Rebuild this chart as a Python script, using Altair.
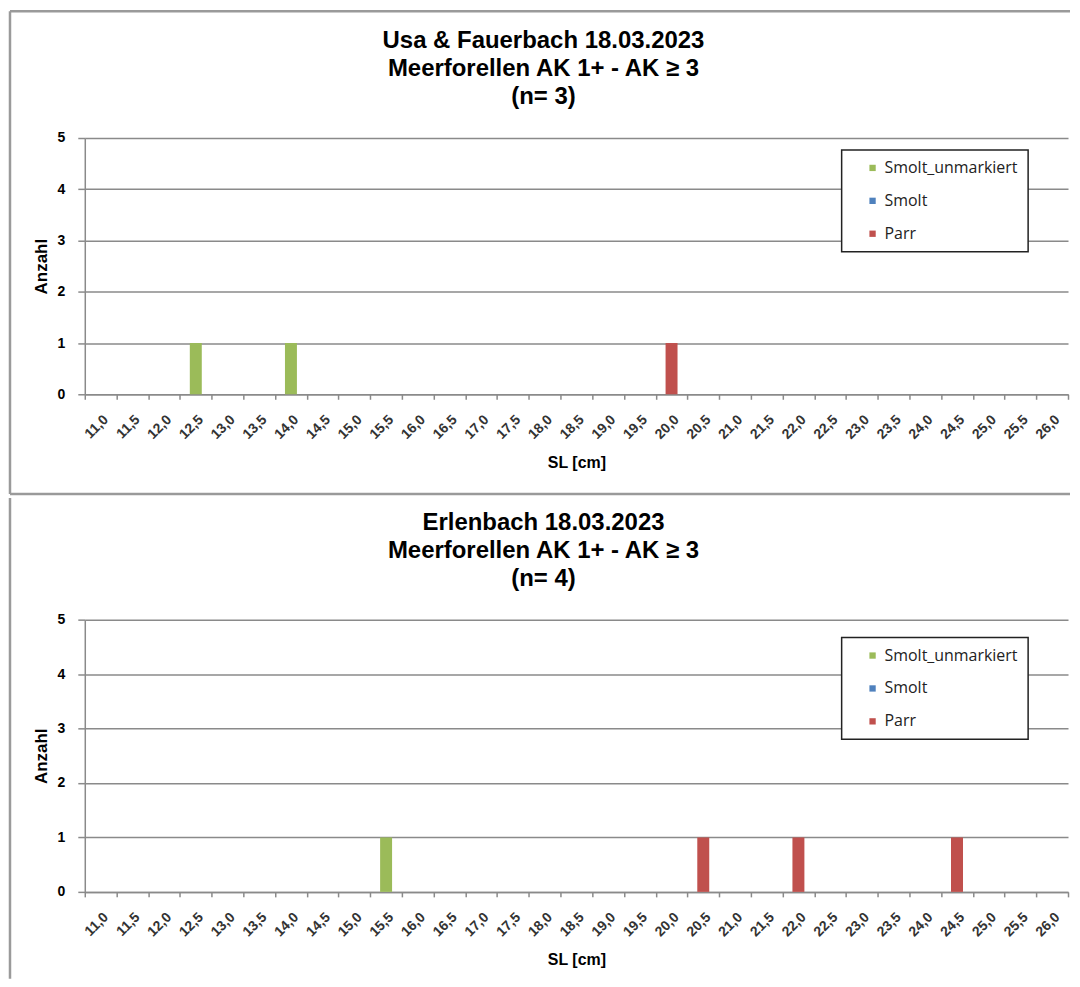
import altair as alt
import pandas as pd

# ---- data ----
sl_labels = ["11,0", "11,5", "12,0", "12,5", "13,0", "13,5", "14,0", "14,5",
             "15,0", "15,5", "16,0", "16,5", "17,0", "17,5", "18,0", "18,5",
             "19,0", "19,5", "20,0", "20,5", "21,0", "21,5", "22,0", "22,5",
             "23,0", "23,5", "24,0", "24,5", "25,0", "25,5", "26,0"]
series = ["Smolt_unmarkiert", "Smolt", "Parr"]
series_colors = ["#9BBB59", "#4F81BD", "#C0504D"]

top_sl = ["12,5", "14,0", "20,0"]
top_series = ["Smolt_unmarkiert", "Smolt_unmarkiert", "Parr"]
top_count = [1, 1, 1]
top_title = ["Usa & Fauerbach 18.03.2023", "Meerforellen AK 1+ - AK ≥ 3", "(n= 3)"]

bot_sl = ["15,5", "20,5", "22,0", "24,5"]
bot_series = ["Smolt_unmarkiert", "Parr", "Parr", "Parr"]
bot_count = [1, 1, 1, 1]
bot_title = ["Erlenbach 18.03.2023", "Meerforellen AK 1+ - AK ≥ 3", "(n= 4)"]

y_ticks = [0, 1, 2, 3, 4, 5]

BORDER = "#9a9a9a"
GRID = "#8a8a8a"
PLOT_W = 986


def panel(sl, ser, cnt, title, plot_h, legend_y, left_top, left_bottom, separator):
    df = pd.DataFrame({"SL": sl, "Status": ser, "Anzahl": cnt})
    bars = alt.Chart(df).mark_bar(size=12).encode(
        x=alt.X("SL:N",
                scale=alt.Scale(domain=sl_labels, paddingInner=0, paddingOuter=0),
                axis=alt.Axis(labelAngle=-45, labelFontSize=14, labelFontWeight="bold",
                              labelFont="Liberation Sans", labelColor="#333333",
                              tickBand="extent", tickSize=5, tickColor=GRID,
                              domainColor=GRID, domainWidth=1.5, tickWidth=1.5,
                              labelPadding=13, labelOverlap=False, grid=False,
                              title="SL [cm]", titleFontSize=16, titleFontWeight="bold",
                              titleFont="Liberation Sans", titlePadding=13,
                              titleColor="black")),
        y=alt.Y("Anzahl:Q",
                scale=alt.Scale(domain=[0, 5]),
                axis=alt.Axis(values=y_ticks, format="d", grid=True, gridColor=GRID,
                              gridWidth=1.5, tickSize=7, tickColor=GRID, tickWidth=1.5,
                              domainColor=GRID, domainWidth=1.5, labelFontSize=14,
                              labelFontWeight="bold", labelFont="Liberation Sans",
                              labelColor="black", labelPadding=13,
                              title="Anzahl", titleFontSize=17, titleFontWeight="bold",
                              titleFont="Liberation Sans", titlePadding=7,
                              titleColor="black")),
        color=alt.Color("Status:N",
                        scale=alt.Scale(domain=series, range=series_colors),
                        legend=alt.Legend(title=None, orient="none", legendX=759,
                                          legendY=legend_y, strokeColor="#222222",
                                          fillColor="white", padding=10,
                                          symbolType="square", symbolSize=40,
                                          symbolOffset=13, symbolStrokeWidth=0,
                                          labelFont="Open Sans", labelFontSize=16,
                                          labelColor="#222222", rowPadding=17,
                                          labelOffset=4)),
    )
    one = alt.Data(values=[{"k": 0}])
    title_layer = alt.Chart(one).mark_text(
        font="Liberation Sans", fontSize=24, fontWeight="bold", lineHeight=28,
        baseline="alphabetic", align="center", color="black"
    ).encode(x=alt.value(460), y=alt.value(-90), text=alt.value(title))

    left_line = alt.Chart(one).mark_rule(color=BORDER, strokeWidth=2.5).encode(
        x=alt.value(-75), y=alt.value(left_top), y2=alt.value(left_bottom))
    layers = [bars, title_layer, left_line]
    if separator:
        top_line = alt.Chart(one).mark_rule(color=BORDER, strokeWidth=2.5).encode(
            x=alt.value(-75), x2=alt.value(988), y=alt.value(left_top))
        sep_line = alt.Chart(one).mark_rule(color=BORDER, strokeWidth=2.5).encode(
            x=alt.value(-75), x2=alt.value(988), y=alt.value(left_bottom))
        layers += [top_line, sep_line]
    return alt.layer(*layers).properties(width=PLOT_W, height=plot_h)


top = panel(top_sl, top_series, top_count, top_title, 257, 12, -127, 357, True)
bottom = panel(bot_sl, bot_series, bot_count, bot_title, 273, 18, -122, 360, False)

chart = alt.vconcat(top, bottom, spacing=0).resolve_scale(
    x="independent", y="independent", color="independent"
).resolve_legend(color="independent").properties(
    padding={"left": 0, "top": 0, "right": 0, "bottom": 0}
).configure_view(stroke=None).configure_legend(strokeWidth=1.5)

chart.save("out.html", embed_options={"renderer": "svg", "actions": False})
